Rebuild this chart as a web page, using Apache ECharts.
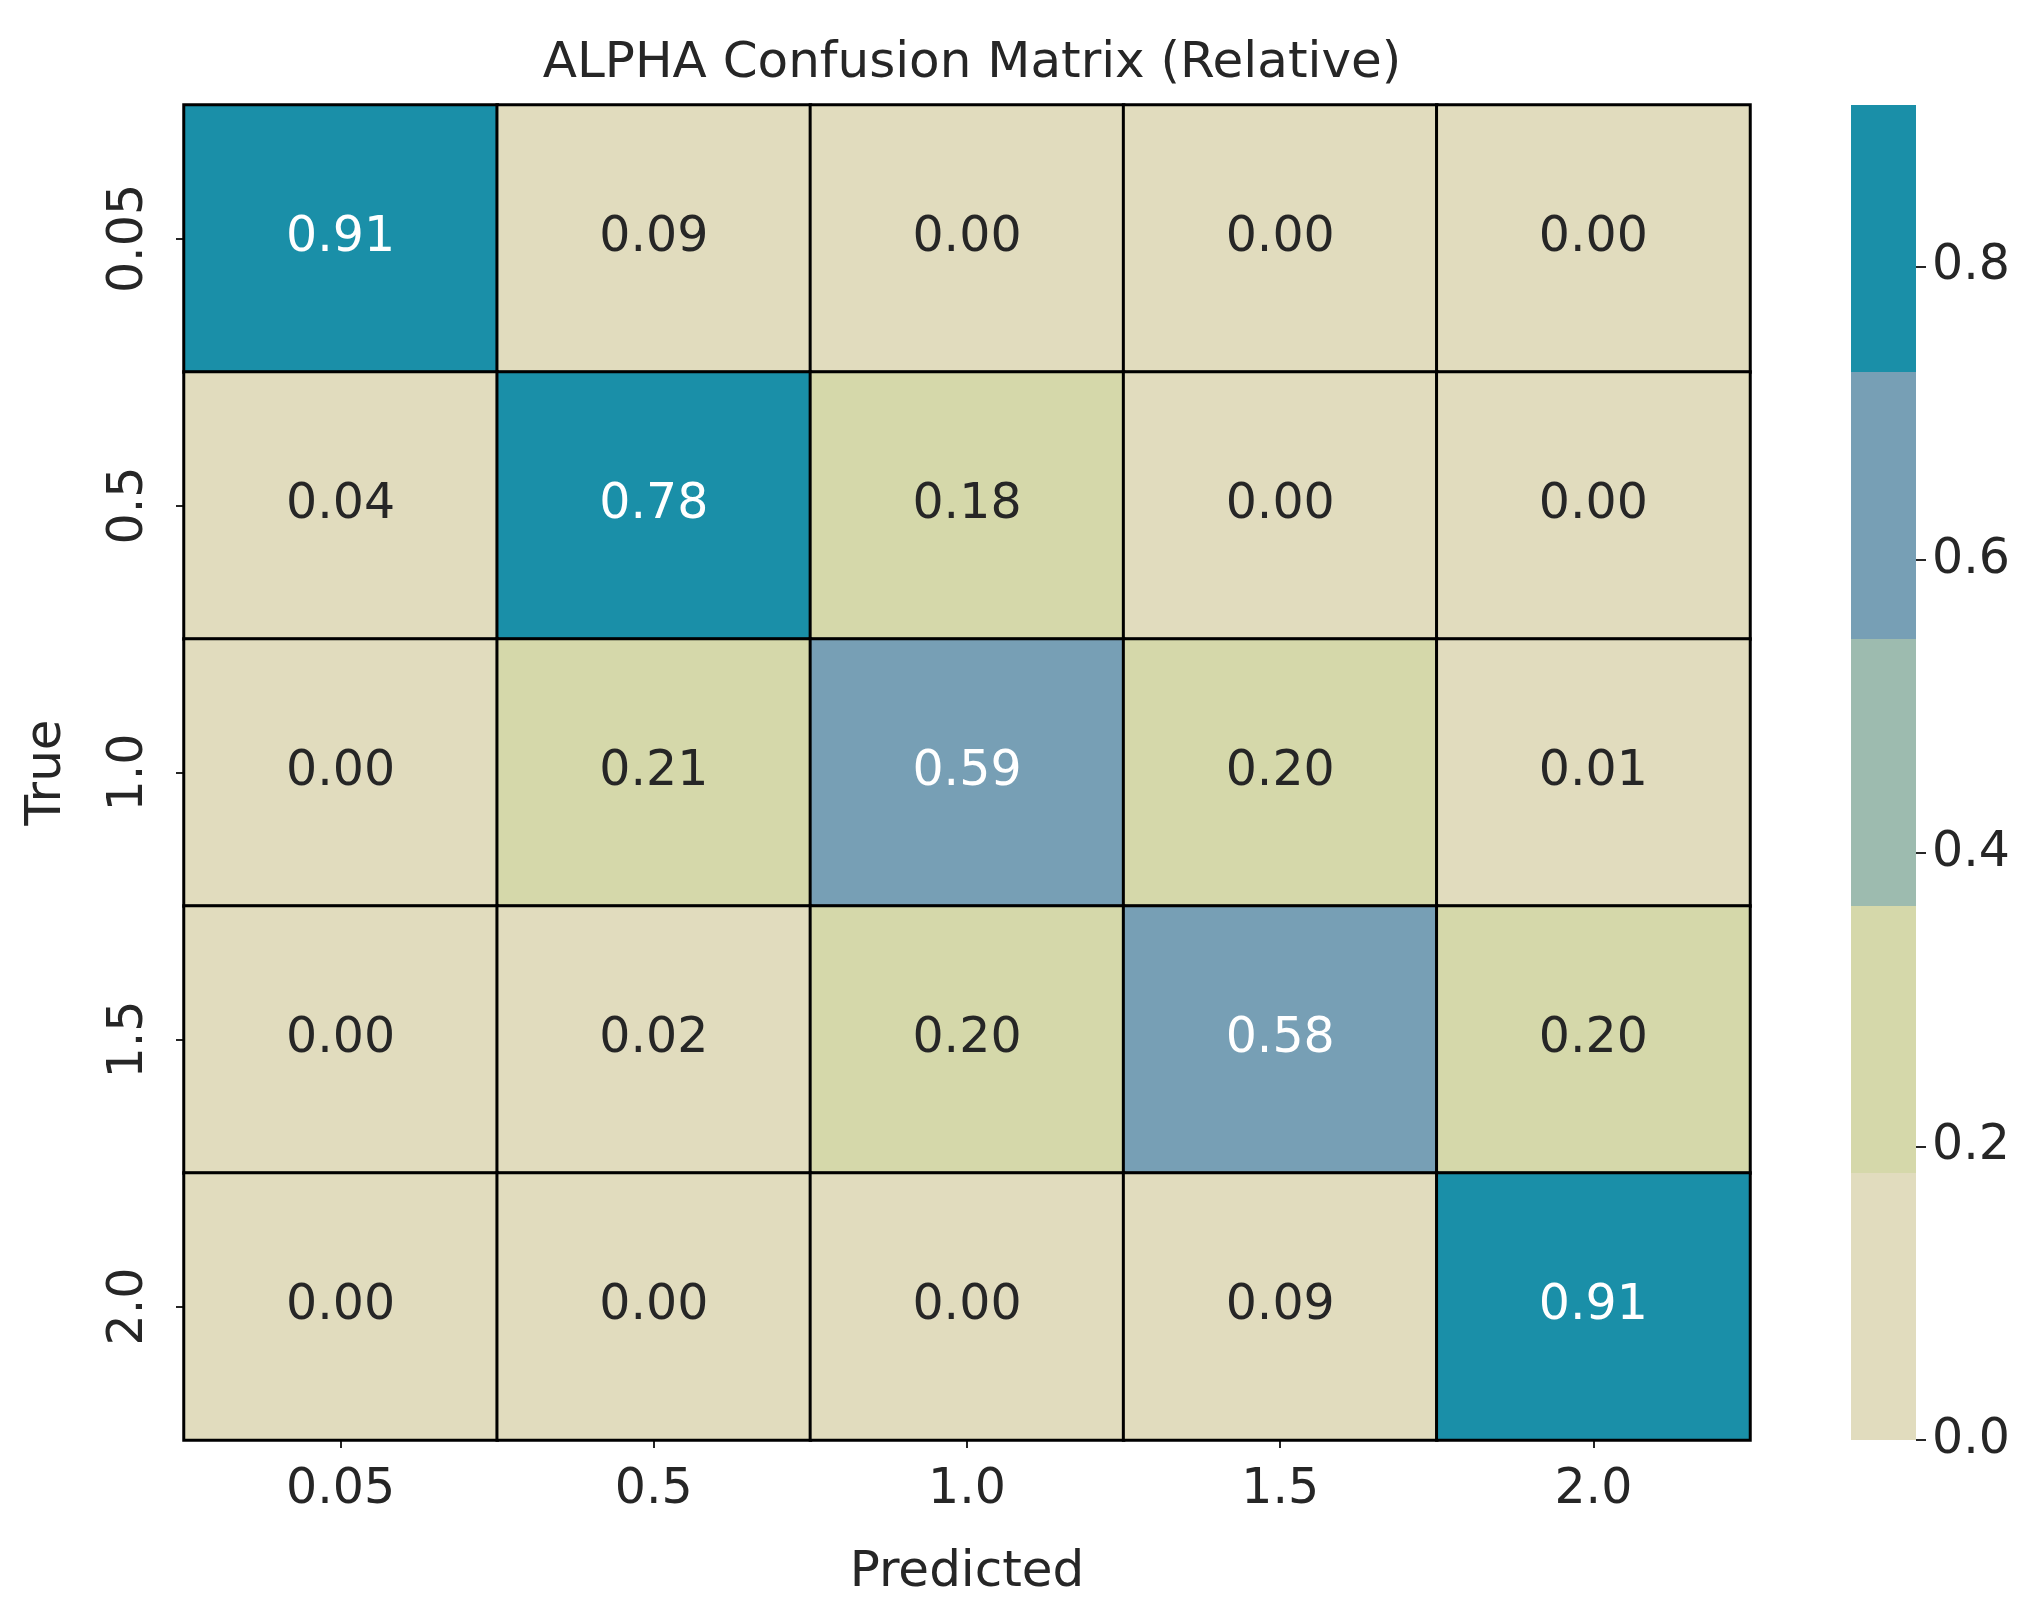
<!DOCTYPE html>
<html><head><meta charset="utf-8">
<script src="https://cdn.jsdelivr.net/npm/echarts@6/dist/echarts.min.js"></script>
<style>html,body{margin:0;background:#fff}#c{width:2041px;height:1604px}</style>
</head><body><div id="c"></div>
<script>
const predicted = ['0.05','0.5','1.0','1.5','2.0'];
const trueLabels = ['0.05','0.5','1.0','1.5','2.0'];
const matrix = [
  [0.91,0.09,0.00,0.00,0.00],
  [0.04,0.78,0.183,0.00,0.00],
  [0.00,0.21,0.59,0.20,0.01],
  [0.00,0.02,0.20,0.58,0.20],
  [0.00,0.00,0.00,0.09,0.91]
];
const binColors = ['#e1dcbe','#d5d8aa','#9dbbaf','#779fb5','#1a8fa8'];
const vmax = 0.91;
const step = vmax/5;

const data = [];
matrix.forEach((row,i)=>row.forEach((v,j)=>{
  data.push({value:[j,i,v],label:{color: v>0.5?'#ffffff':'#262626'}});
}));
const pieces = binColors.map((c,k)=>({gte:k*step, lt:(k===4?10:(k+1)*step), color:c}));
const font = 'DejaVu Sans';
const chart = echarts.init(document.getElementById('c'));
chart.setOption({
  animation:false,
  textStyle:{fontFamily:font},
  title:{text:'ALPHA Confusion Matrix (Relative)',left:967,top:34,textAlign:'center',
    textStyle:{fontFamily:font,fontSize:50,fontWeight:'normal',color:'#262626'}},
  grid:[{left:184,top:105,width:1566,height:1335},{left:1851,top:105,width:65,height:1335}],
  xAxis:[
    {type:'category',data:predicted,gridIndex:0,name:'Predicted',nameLocation:'middle',nameGap:108,
     nameTextStyle:{fontSize:50,color:'#262626',fontFamily:font},
     axisLabel:{fontSize:49,color:'#262626',margin:26,fontFamily:font},axisTick:{show:true,alignWithLabel:true,length:8,lineStyle:{color:'#262626',width:2}},axisLine:{show:false},splitLine:{show:false}},
    {type:'category',data:['c'],gridIndex:1,show:false}
  ],
  yAxis:[
    {type:'category',data:trueLabels,inverse:true,gridIndex:0,name:'True',nameLocation:'middle',nameGap:112,nameRotate:90,
     nameTextStyle:{fontSize:50,color:'#262626',fontFamily:font},
     axisLabel:{fontSize:49,color:'#262626',rotate:90,margin:30,fontFamily:font,align:'center'},axisTick:{show:true,alignWithLabel:true,length:8,lineStyle:{color:'#262626',width:2}},axisLine:{show:false},splitLine:{show:false}},
    {type:'value',gridIndex:1,position:'right',min:0,max:vmax,interval:0.2,
     axisLabel:{fontSize:49,color:'#262626',margin:16,fontFamily:font,formatter:v=>v.toFixed(1),showMaxLabel:false},
     axisTick:{show:true,length:10,lineStyle:{color:'#262626',width:2}},axisLine:{show:false},splitLine:{show:false}}
  ],
  visualMap:{type:'piecewise',show:false,seriesIndex:0,dimension:2,pieces:pieces},
  series:[
    {type:'heatmap',xAxisIndex:0,yAxisIndex:0,data:data,
     itemStyle:{borderColor:'#000',borderWidth:3},
     label:{show:true,fontSize:49,fontFamily:font,formatter:p=>p.value[2].toFixed(2)}},
    ...binColors.map(c=>({type:'bar',xAxisIndex:1,yAxisIndex:1,stack:'cb',barWidth:'100%',
      data:[step],itemStyle:{color:c},silent:true}))
  ]
});
</script></body></html>
